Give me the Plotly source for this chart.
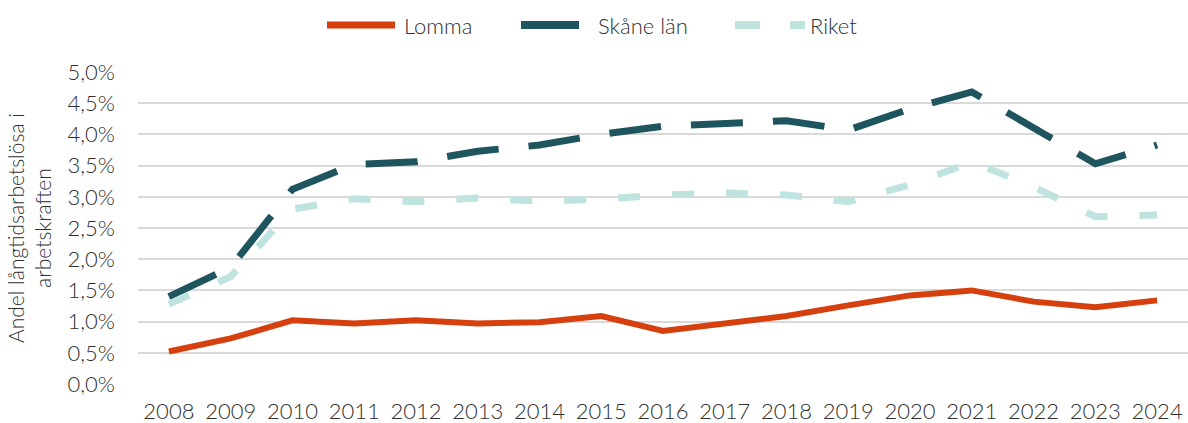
import plotly.graph_objects as go

years = [str(y) for y in range(2008, 2025)]
lomma = [0.52, 0.73, 1.02, 0.97, 1.02, 0.97, 0.99, 1.09, 0.85, 0.97, 1.09, 1.26, 1.42, 1.50, 1.32, 1.23, 1.34]
skane = [1.40, 1.87, 3.12, 3.52, 3.56, 3.73, 3.83, 4.00, 4.13, 4.18, 4.22, 4.07, 4.41, 4.68, 4.09, 3.53, 3.83]
riket = [1.28, 1.72, 2.80, 2.97, 2.92, 2.98, 2.93, 2.96, 3.03, 3.06, 3.03, 2.92, 3.19, 3.56, 3.16, 2.68, 2.71]

tick_vals = [0, 0.5, 1, 1.5, 2, 2.5, 3, 3.5, 4, 4.5, 5]
tick_text = ["0,0%", "0,5%", "1,0%", "1,5%", "2,0%", "2,5%", "3,0%", "3,5%", "4,0%", "4,5%", "5,0%"]

names = ["Lomma", "Skåne län", "Riket"]
colors = ["#D63F0E", "#1F555E", "#BFE4DF"]

FONT = "Lato"
TXT = "#303030"
W, H = 1188, 423
ML, MR, MT, MB = 138, 0, 72, 39
PW, PH = W - ML - MR, H - MT - MB


def px(x):
    return (x - ML) / PW


def py(y):
    return (H - MB - y) / PH


fig = go.Figure()
fig.add_trace(go.Scatter(x=years, y=lomma, name=names[0], mode="lines",
                         line=dict(color=colors[0], width=6)))
fig.add_trace(go.Scatter(x=years, y=skane, name=names[1], mode="lines",
                         line=dict(color=colors[1], width=7, dash="52px,30px")))
fig.add_trace(go.Scatter(x=years, y=riket, name=names[2], mode="lines",
                         line=dict(color=colors[2], width=7, dash="22px,32px")))

# legend (drawn manually to match the original's long samples)
ly = py(25)
shapes = [
    dict(type="line", xref="paper", yref="paper", x0=px(327), x1=px(395), y0=ly, y1=ly,
         line=dict(color=colors[0], width=7)),
    dict(type="line", xref="paper", yref="paper", x0=px(521), x1=px(579), y0=ly, y1=ly,
         line=dict(color=colors[1], width=8)),
    dict(type="line", xref="paper", yref="paper", x0=px(735), x1=px(760), y0=ly, y1=ly,
         line=dict(color=colors[2], width=8)),
    dict(type="line", xref="paper", yref="paper", x0=px(790), x1=px(805), y0=ly, y1=ly,
         line=dict(color=colors[2], width=8)),
]
lf = dict(size=22, color=TXT, family=FONT, weight=300)
annotations = [
    dict(text=names[0], xref="paper", yref="paper", x=px(402), y=ly, xanchor="left",
         yanchor="middle", showarrow=False, font=lf),
    dict(text=names[1], xref="paper", yref="paper", x=px(596), y=ly, xanchor="left",
         yanchor="middle", showarrow=False, font=lf),
    dict(text=names[2], xref="paper", yref="paper", x=px(808), y=ly, xanchor="left",
         yanchor="middle", showarrow=False, font=lf),
    dict(text="Andel långtidsarbetslösa i<br>arbetskraften", xref="paper", yref="paper",
         x=px(29), y=py(228), xanchor="center", yanchor="middle", textangle=-90,
         showarrow=False, font=dict(size=21, color=TXT, family=FONT, weight=300)),
]

fig.update_layout(
    width=W, height=H,
    margin=dict(l=ML, r=MR, t=MT, b=MB),
    paper_bgcolor="white", plot_bgcolor="white",
    font=dict(family=FONT, size=22, color=TXT, weight=300),
    showlegend=False,
    shapes=shapes,
    annotations=annotations,
    xaxis=dict(type="category", range=[-0.5, 16.5], showgrid=False, showline=False,
               ticks="", automargin=False, ticklabelstandoff=12,
               tickfont=dict(size=22, color=TXT, family=FONT, weight=300)),
    yaxis=dict(range=[0, 5], tickvals=tick_vals, ticktext=tick_text, automargin=False,
               showgrid=True, gridcolor="#D9D9D9", gridwidth=2, zeroline=False,
               ticks="", ticklabelstandoff=22,
               tickfont=dict(size=22, color=TXT, family=FONT, weight=300)),
)

fig.write_html("out.html", config={"displayModeBar": False},
               post_script="document.body.style.margin='0';document.body.style.overflow='hidden';")
